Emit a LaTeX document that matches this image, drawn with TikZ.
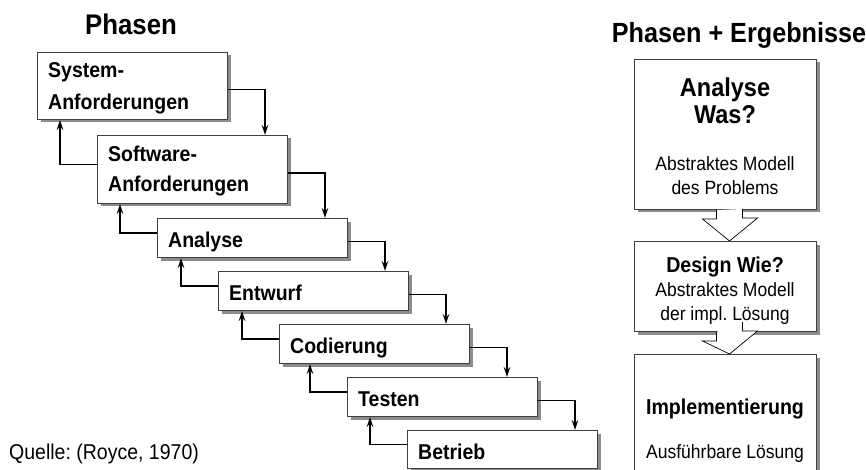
\documentclass[tikz,border=0pt]{standalone}
\usepackage{fontspec}
\setmainfont{Liberation Sans}
\usetikzlibrary{shadows,arrows.meta,calc}
\newcommand{\tall}[1]{\scalebox{1}[1.1]{#1}}
\begin{document}
\frenchspacing
\begin{tikzpicture}[x=1pt,y=-1pt,
  box/.style={draw=black!75, line width=1pt, fill=white, anchor=north west, inner sep=0pt,
    drop shadow={shadow xshift=3pt, shadow yshift=-3pt, fill=black!45, opacity=1}},
  lbox/.style={box, minimum width=190pt},
  rbox/.style={box, minimum width=182pt},
  ltxt/.style={anchor=base west, inner sep=0pt, font=\bfseries\fontsize{19.5}{23}\selectfont},
  rtxt/.style={anchor=base, inner sep=0pt, font=\fontsize{17.5}{21}\selectfont},
  rbold/.style={anchor=base, inner sep=0pt, font=\bfseries\fontsize{19.6}{23}\selectfont},
  ttl/.style={anchor=base, inner sep=0pt, font=\bfseries\fontsize{25.8}{30}\selectfont},
  arr/.style={line width=1.9pt, -{Stealth[length=10pt,width=6.5pt,inset=3.5pt]}},
  hollow/.style={draw=black, line width=0.7pt, fill=white}]
\clip (0,0) rectangle (866,470);
\fill[white] (0,0) rectangle (866,470);
% titles
\node[ttl] (t1) at (131,35) {\tall{Phasen}};
\node[ttl, font=\bfseries\fontsize{25.2}{30}\selectfont] (t2) at (739,43) {\tall{Phasen + Ergebnisse}};
% left boxes
\node[lbox, minimum height=67pt] (sys) at (37,52) {};
\node[lbox, minimum height=68pt] (soft) at (97,135) {};
\node[lbox, minimum height=39pt] (ana) at (157,218) {};
\node[lbox, minimum height=39pt] (ent) at (218,271) {};
\node[lbox, minimum height=39pt] (cod) at (279,324) {};
\node[lbox, minimum height=39pt] (tst) at (347,377) {};
\node[lbox, minimum height=38pt] (bet) at (407,430) {};
\node[ltxt] (sys1) at (48,78) {\tall{System-}};
\node[ltxt] (sys2) at (48,110) {\tall{Anforderungen}};
\node[ltxt] (soft1) at (108,162) {\tall{Software-}};
\node[ltxt] (soft2) at (108,192) {\tall{Anforderungen}};
\node[ltxt] (anat) at (168,247) {\tall{Analyse}};
\node[ltxt] (entt) at (229,300) {\tall{Entwurf}};
\node[ltxt] (codt) at (290,353) {\tall{Codierung}};
\node[ltxt] (tstt) at (358,406) {\tall{Testen}};
\node[ltxt] (bett) at (418,459) {\tall{Betrieb}};
% forward arrows
\foreach \a/\b in {sys/soft, soft/ana, ana/ent, ent/cod, cod/tst, tst/bet}{
  \draw[arr] ([yshift=-3.5pt]\a.east) -- ++(37,0) coordinate (c) -- (c |- \b.north);
}
% backward arrows
\foreach \a/\b in {soft/sys, ana/soft, ent/ana, cod/ent, tst/cod, bet/tst}{
  \draw[arr] ([yshift=5pt]\a.west) -- ++(-37,0) coordinate (c) -- (c |- \b.south);
}
% right column
\node[rbox, minimum height=150pt] (ra) at (634,59) {};
\node[rbox, minimum height=90pt] (rb) at (634,241) {};
\node[rbox, minimum height=140pt] (rc) at (634,354) {};
\node[rbold, font=\bfseries\fontsize{23.5}{27}\selectfont] (ra1) at (725,97) {\tall{Analyse}};
\node[rbold, font=\bfseries\fontsize{23.5}{27}\selectfont] (ra2) at (725,124) {\tall{Was?}};
\node[rtxt] (ra3) at (725,171) {\tall{Abstraktes Modell}};
\node[rtxt] (ra4) at (725,195) {\tall{des Problems}};
\node[rbold] (rb1) at (725,272) {\tall{Design Wie?}};
\node[rtxt] (rb2) at (725,296) {\tall{Abstraktes Modell}};
\node[rtxt] (rb3) at (725,320) {\tall{der impl. Lösung}};
\node[rbold] (rc1) at (725,414) {\tall{Implementierung}};
\node[rtxt] (rc2) at (725,458) {\tall{Ausführbare Lösung}};
% hollow arrows
\foreach \a/\b in {ra/rb, rb/rc}{
  \draw[hollow] ([xshift=-9pt]\a.south) -- ++(0,9) -- ++(-14,0) -- ([xshift=4pt]\b.north)
    -- ++(28,-23) -- ++(-15,0) -- ++(0,-9);
}
% source
\node[anchor=base west, inner sep=0pt, font=\fontsize{19.5}{23}\selectfont] (src) at (9,459) {\tall{Quelle: (Royce, 1970)}};
\end{tikzpicture}
\end{document}
